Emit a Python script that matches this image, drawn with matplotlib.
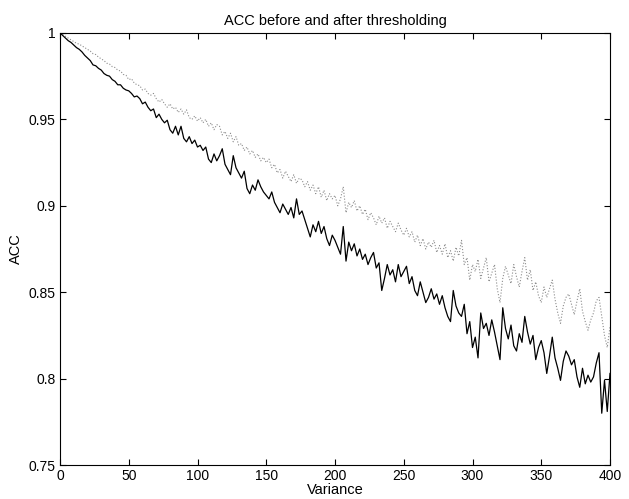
import numpy as np
import matplotlib
matplotlib.use('Agg')
import matplotlib.pyplot as plt

plt.rcParams['font.family'] = ['Liberation Sans', 'DejaVu Sans']

variance = np.arange(0, 401, 2)

# ACC values in thousandths, every 2 units of variance
acc_solid_milli = [
    1000, 998.5, 997, 995.5, 994.5, 993, 991.5, 990.5, 989, 987,
    985.5, 984, 981.5, 981, 979.5, 978.5, 976.5, 975.5, 975, 973,
    972, 970, 970, 968, 967, 966.5, 965, 963, 963.5, 962,
    959, 960, 957, 955, 956, 951, 953, 950, 948, 949.5,
    944, 942, 946, 941, 946, 939, 937, 940, 936, 938,
    934, 935, 932, 934, 927, 925, 930, 926, 929, 933,
    924, 921, 918, 929, 922, 919, 916, 920, 910, 907,
    912, 909, 915, 911, 908, 906, 904, 908, 902, 899,
    896, 901, 898, 895, 899, 893, 904, 895, 897, 892,
    887, 882, 889, 885, 891, 884, 888, 881, 877, 883,
    880, 876, 872, 888, 868, 879, 874, 878, 871, 875,
    869, 872, 866, 870, 873, 864, 867, 851, 858, 866,
    860, 863, 856, 866, 859, 862, 865, 855, 859, 851,
    848, 856, 850, 844, 847, 852, 846, 849, 843, 848,
    841, 836, 833, 851, 842, 838, 836, 843, 826, 833,
    818, 824, 812, 838, 829, 832, 825, 834, 827, 819,
    811, 841, 829, 823, 831, 819, 816, 826, 821, 836,
    827, 820, 825, 811, 818, 822, 815, 803, 813, 824,
    812, 806, 799, 810, 816, 813, 808, 811, 801, 795,
    806, 797, 802, 798, 801, 809, 815, 780, 799, 781,
    803,
]

acc_dotted_milli = [
    1000, 999, 998, 997, 996, 995, 994, 993.5, 992.5, 991.5,
    990.5, 989.5, 988, 987.5, 986, 985, 984, 982.5, 982, 980.5,
    980, 978.5, 978, 976, 975.5, 973, 973.5, 971, 970, 969.5,
    967, 967.5, 965, 964, 965, 962, 960, 961.5, 959, 957,
    959, 956, 957, 954, 956, 953, 955.5, 951, 950, 952,
    949, 951, 948, 950, 946, 948, 944, 947, 946, 941,
    943, 939, 942, 937, 940, 935, 936, 932, 934, 930,
    932, 928, 930, 926, 928, 925, 927, 922, 924, 919,
    921, 916, 920, 917, 914, 918, 913, 916, 915, 911,
    914, 909, 912, 907, 911, 905, 909, 903, 907, 904,
    906, 900, 904, 911, 896, 902, 899, 903, 897, 900,
    895, 898, 892, 896, 893, 889, 894, 890, 893, 887,
    891, 888, 885, 890, 886, 883, 887, 882, 885, 879,
    883, 877, 881, 875, 879, 876, 880, 873, 877, 872,
    878, 870, 874, 868, 876, 871, 880, 866, 870, 857,
    866, 862, 869, 858, 864, 870, 856, 861, 866, 852,
    844, 858, 865, 860, 855, 866, 859, 853, 862, 870,
    857, 863, 851, 856, 848, 844, 853, 847, 852, 857,
    846, 838, 832, 842, 847, 849, 843, 837, 845, 852,
    839, 833, 828, 834, 838, 845, 847, 836, 825, 818,
    830,
]

acc_solid = np.array(acc_solid_milli) / 1000
acc_dotted = np.array(acc_dotted_milli) / 1000

xticks = [0, 50, 100, 150, 200, 250, 300, 350, 400]
yticks = [0.75, 0.8, 0.85, 0.9, 0.95, 1.0]
ytick_labels = ['0.75', '0.8', '0.85', '0.9', '0.95', '1']

fig = plt.figure(figsize=(6.29, 4.99), dpi=100)
ax = fig.add_axes([0.0954, 0.068, 0.8744, 0.866])

ax.plot(variance, acc_dotted, color='0.55', linestyle=':', linewidth=0.8)
ax.plot(variance, acc_solid, color='black', linestyle='-', linewidth=0.9)

ax.set_xlim(0, 400)
ax.set_ylim(0.75, 1.0)
ax.set_xticks(xticks)
ax.set_xticklabels([str(t) for t in xticks])
ax.set_yticks(yticks)
ax.set_yticklabels(ytick_labels)
ax.tick_params(direction='in', top=True, right=True, labelsize=10, length=4, pad=3)
for s in ax.spines.values():
    s.set_linewidth(0.8)

ax.set_title('ACC before and after thresholding', fontsize=10.5, pad=6)
ax.set_xlabel('Variance', fontsize=10.5, labelpad=0)
ax.set_ylabel('ACC', fontsize=10.5, labelpad=4)

fig.savefig('out.png', dpi=100)
